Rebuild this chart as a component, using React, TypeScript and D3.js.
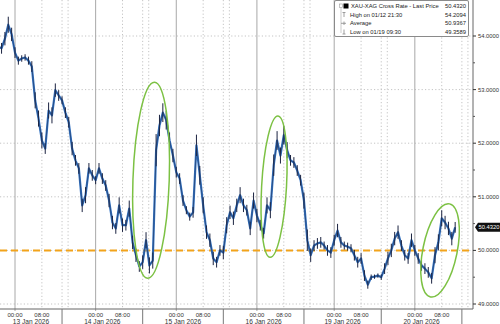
import React from 'react';
import * as d3 from 'd3';

// Hours on a trading-time axis, 0 = 13 Jan 2026 00:00 (weekend collapsed)
const startHour = -5;
const prices = [
  53.80, 53.77, 53.95, 54.21, 54.03, 53.69, 53.54, 53.58, 53.60, 53.54,
  53.43, 52.80, 52.46, 52.05, 51.90, 52.61, 52.52, 52.99, 52.89, 52.80,
  52.57, 52.39, 51.90, 51.68, 51.53, 50.84, 51.03, 51.53, 51.40, 51.31,
  51.53, 51.34, 51.21, 50.93, 50.52, 50.41, 50.84, 50.47, 50.47, 50.78,
  50.15, 49.91, 49.70, 49.78, 50.19, 49.72, 49.81, 51.87, 52.33, 52.57,
  52.43, 52.05, 51.77, 51.46, 51.34, 50.93, 50.75, 50.63, 50.71, 51.96,
  51.40, 50.84, 50.34, 50.19, 49.85, 49.78, 50.00, 49.96, 50.47, 50.71,
  50.60, 50.84, 51.03, 50.84, 50.75, 50.41, 50.93, 50.65, 50.47, 50.32,
  50.84, 50.75, 51.59, 52.05, 51.77, 52.15, 51.87, 51.68, 51.64, 51.49,
  51.31, 50.93, 50.19, 49.91, 50.09, 50.13, 50.15, 50.09, 50.00, 49.96,
  50.19, 50.37, 50.15, 50.09, 50.07, 50.04, 49.91, 49.78, 49.85, 49.53,
  49.36, 49.50, 49.51, 49.53, 49.50, 49.66, 49.85, 50.00, 50.22, 50.34,
  50.09, 49.91, 49.85, 50.19, 50.00, 49.85, 49.72, 49.66, 49.59, 49.48,
  49.91, 50.15, 50.60, 50.52, 50.41, 50.22, 50.43,
];
// hourly high-low range around each price
const ranges = [
  0.15, 0.20, 0.25, 0.30, 0.25, 0.20, 0.15, 0.12, 0.12, 0.15,
  0.20, 0.30, 0.30, 0.30, 0.20, 0.30, 0.30, 0.25, 0.20, 0.15,
  0.20, 0.20, 0.25, 0.20, 0.20, 0.25, 0.30, 0.20, 0.20, 0.15,
  0.20, 0.20, 0.20, 0.25, 0.25, 0.20, 0.30, 0.25, 0.20, 0.30,
  0.25, 0.25, 0.20, 0.25, 0.30, 0.30, 0.30, 0.60, 0.40, 0.35,
  0.35, 0.30, 0.25, 0.20, 0.20, 0.20, 0.15, 0.15, 0.20, 0.40,
  0.35, 0.30, 0.25, 0.25, 0.25, 0.20, 0.20, 0.25, 0.30, 0.25,
  0.25, 0.25, 0.30, 0.25, 0.20, 0.25, 0.30, 0.25, 0.20, 0.20,
  0.30, 0.30, 0.40, 0.35, 0.30, 0.35, 0.30, 0.20, 0.20, 0.20,
  0.20, 0.30, 0.40, 0.25, 0.20, 0.20, 0.20, 0.15, 0.20, 0.20,
  0.20, 0.25, 0.20, 0.15, 0.15, 0.15, 0.20, 0.20, 0.20, 0.20,
  0.15, 0.10, 0.08, 0.08, 0.10, 0.20, 0.25, 0.25, 0.25, 0.25,
  0.20, 0.20, 0.20, 0.25, 0.20, 0.20, 0.20, 0.20, 0.20, 0.20,
  0.30, 0.30, 0.30, 0.25, 0.25, 0.25, 0.20,
];
const lastPrice = 50.432;

const yTicks = [49, 50, 51, 52, 53, 54];
const yMinorTicks = [49.5, 50.5, 51.5, 52.5, 53.5];
const dayStarts = [0, 24, 48, 72, 95, 119];
const dayLabels = ['13 Jan 2026', '14 Jan 2026', '15 Jan 2026', '16 Jan 2026', '19 Jan 2026', '20 Jan 2026'];
const hourOffsets = [0, 8];
const hourLabels = ['00:00', '08:00'];
const sessionBreaks = [-10, 14, 38, 62, 86, 109, 133];
const refLevel = 50;

const legendNames = ['XAU-XAG Cross Rate - Last Price', 'High on 01/12 21:30', 'Average', 'Low on 01/19 09:30'];
const legendValues = ['50.4320', '54.2094', '50.9367', '49.3589'];

// highlight ellipses: center hour, center value, radius (hours), radius (value), rotation
const hlHour = [40.5, 77.1, 126.5];
const hlValue = [51.31, 51.19, 50.0];
const hlRh = [5.4, 3.7, 5.1];
const hlRv = [1.83, 1.32, 0.886];
const hlRot = [2, 3.2, 11.5];

const W = 500;
const H = 324;
const axisX = 473;
const axisY = 309;

export default function App() {
  const x = d3.scaleLinear().domain([0, 119]).range([15, 15 + 119 * 3.36]);
  const y = d3.scaleLinear().domain([49, 54]).range([304, 36]);
  const pts = prices.map((v, i) => [x(startHour + i), y(v)] as [number, number]);
  const path = d3.line()(pts) || '';
  const font = "'Liberation Sans', Arial, sans-serif";
  const grid = '#c4c4c4';
  const lastY = y(lastPrice);

  return (
    <svg width={W} height={H} style={{ position: 'fixed', left: 0, top: 0, background: '#fff' }} fontFamily={font}>
      <defs>
        <clipPath id="plot"><rect x={0} y={0} width={axisX} height={axisY} /></clipPath>
      </defs>
      {yTicks.map((v) => (
        <line key={'hg' + v} x1={0} x2={axisX} y1={y(v)} y2={y(v)} stroke={grid} strokeDasharray="1.2,2.2" strokeWidth={1} />
      ))}
      {dayStarts.map((d) => (
        <line key={'vg0' + d} x1={x(d)} x2={x(d)} y1={0} y2={axisY + 2} stroke="#a8a8a8" strokeWidth={1} />
      ))}
      {dayStarts.map((d) => (
        <line key={'vg8' + d} x1={x(d + 8)} x2={x(d + 8)} y1={0} y2={axisY} stroke={grid} strokeDasharray="1.2,2.2" strokeWidth={1} />
      ))}
      {sessionBreaks.map((s) => (
        <g key={'sb' + s}>
          <line x1={x(s)} x2={x(s)} y1={0} y2={axisY} stroke={grid} strokeDasharray="1.2,2.2" strokeWidth={1} />
          <line x1={x(s + 1.8)} x2={x(s + 1.8)} y1={0} y2={axisY} stroke={grid} strokeDasharray="1.2,2.2" strokeWidth={1} />
        </g>
      ))}
      <line x1={0} x2={axisX} y1={y(refLevel)} y2={y(refLevel)} stroke="#f2a31b" strokeWidth={2} strokeDasharray="7,4" />
      <g clipPath="url(#plot)">
        <path d={path} fill="none" stroke="#3474c4" strokeWidth={2.2} strokeLinejoin="round" />
        {prices.map((v, i) => (
          <line key={'hl' + i} x1={x(startHour + i)} x2={x(startHour + i)} y1={y(v + ranges[i] / 2)} y2={y(v - ranges[i] / 2)}
            stroke="#1b2340" strokeWidth={1} />
        ))}
        <path d={path} fill="none" stroke="#22355e" strokeWidth={0.6} strokeLinejoin="round" />
      </g>
      {hlHour.map((h, i) => {
        const cx = x(h);
        const cy = y(hlValue[i]);
        const rx = x(h + hlRh[i]) - cx;
        const ry = cy - y(hlValue[i] + hlRv[i]);
        return (
          <ellipse key={'el' + i} cx={cx} cy={cy} rx={rx} ry={ry} transform={`rotate(${hlRot[i]} ${cx} ${cy})`}
            fill="none" stroke="#7cc143" strokeWidth={1.5} />
        );
      })}
      <line x1={axisX} x2={axisX} y1={0} y2={axisY} stroke="#666" strokeWidth={1} />
      {yTicks.map((v) => (
        <g key={'yt' + v}>
          <line x1={axisX} x2={axisX + 3} y1={y(v)} y2={y(v)} stroke="#333" strokeWidth={1} />
          <text x={axisX + 5} y={y(v)} dy="0.35em" fontSize={5.8} fill="#333">{v.toFixed(4)}</text>
        </g>
      ))}
      {yMinorTicks.map((v) => (
        <line key={'ym' + v} x1={axisX} x2={axisX + 2} y1={y(v)} y2={y(v)} stroke="#555" strokeWidth={1} />
      ))}
      <path d={`M${axisX + 2},${lastY} L${axisX + 5},${lastY - 4.5} H${W} V${lastY + 4.5} H${axisX + 5} Z`} fill="#111" />
      <text x={axisX + 5.5} y={lastY} dy="0.35em" fontSize={5.8} fill="#fff" textAnchor="start">{lastPrice.toFixed(4)}</text>
      <line x1={0} x2={axisX} y1={axisY} y2={axisY} stroke="#666" strokeWidth={1} />
      {dayStarts.map((d) =>
        hourOffsets.map((o, j) => (
          <text key={'ht' + d + '-' + o} x={x(d + o)} y={314.5} dy="0.35em" fontSize={6} fill="#333" textAnchor="middle">{hourLabels[j]}</text>
        ))
      )}
      {sessionBreaks.map((s) => (
        <line key={'sbt' + s} x1={x(s)} x2={x(s)} y1={axisY} y2={H} stroke="#777" strokeWidth={1} />
      ))}
      {dayLabels.map((lab, i) => {
        const a = Math.max(0, x(sessionBreaks[i]));
        const b = Math.min(axisX, x(sessionBreaks[i + 1]));
        return (
          <text key={'dl' + i} x={(a + b) / 2} y={321.5} dy="0.35em" fontSize={6.6} fill="#333" textAnchor="middle">{lab}</text>
        );
      })}
      <g>
        <rect x={334.5} y={0.5} width={134} height={36} fill="#fff" stroke="#8a8a8a" strokeWidth={1} rx={1.5} />
        <rect x={339.5} y={4} width={3} height={3.5} fill="none" stroke="#999" strokeWidth={0.6} />
        <rect x={343.5} y={3.5} width={5} height={5} fill="#000" />
        <line x1={341} x2={341} y1={8} y2={33} stroke="#aaa" strokeWidth={0.6} />
        <line x1={342.5} x2={345.5} y1={12.5} y2={12.5} stroke="#888" strokeWidth={0.8} />
        <line x1={344} x2={344} y1={12.5} y2={17} stroke="#888" strokeWidth={0.8} />
        <line x1={341} x2={346} y1={23.3} y2={23.3} stroke="#888" strokeWidth={0.8} />
        <line x1={344} x2={344} y1={21.5} y2={25} stroke="#888" strokeWidth={0.8} />
        <line x1={342.5} x2={345.5} y1={34} y2={34} stroke="#888" strokeWidth={0.8} />
        <line x1={344} x2={344} y1={29.5} y2={34} stroke="#888" strokeWidth={0.8} />
        {legendNames.map((n, i) => (
          <g key={'lg' + i}>
            <text x={i === 0 ? 351 : 350} y={6 + i * 8.7} dy="0.35em" fontSize={5.8} fill="#222">{n}</text>
            <text x={466} y={6 + i * 8.7} dy="0.35em" fontSize={5.8} fill="#222" textAnchor="end">{legendValues[i]}</text>
          </g>
        ))}
      </g>
    </svg>
  );
}
